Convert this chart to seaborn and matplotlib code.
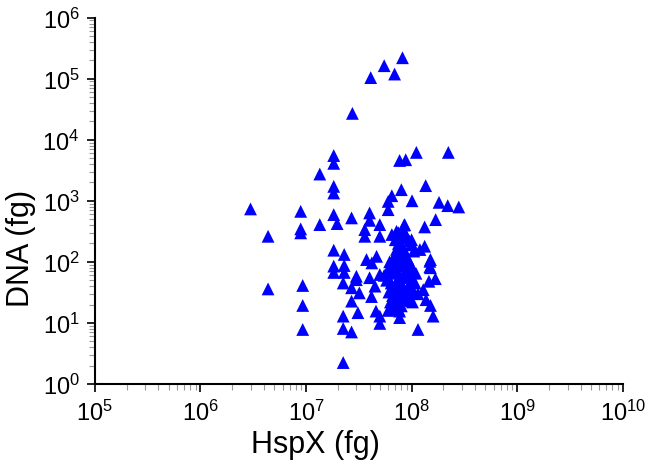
import matplotlib
matplotlib.use("Agg")
import matplotlib.pyplot as plt
import matplotlib.ticker as mticker
import numpy as np
import pandas as pd
import seaborn as sns

# HspX (fg) and DNA (fg) values
hspx = [
    8.2e7, 5.5e7, 6.9e7, 4.1e7, 2.75e7,
    1.83e7, 1.83e7, 1.35e7, 1.83e7, 1.83e7, 2.98e6, 8.9e6, 1.83e7, 2.7e7,
    1.97e7, 1.35e7, 8.9e6, 8.9e6, 4.37e6, 1.83e7, 2.3e7, 1.83e7, 2.3e7,
    1.83e7, 2.3e7, 9.3e6, 9.3e6, 9.3e6, 4.37e6,
    7.7e7, 8.8e7, 1.11e8, 2.23e8, 8.0e7, 1.36e8, 6.5e7, 6.0e7, 1.01e8,
    6.0e7, 1.82e8, 2.2e8, 2.8e8, 1.69e8, 1.33e8, 4.0e7, 4.0e7, 5.0e7,
    3.6e7, 3.6e7, 5.0e7, 8.6e7, 7.2e7, 1.33e8, 1.2e8, 1.49e8, 1.49e8,
    3.74e7, 4.66e7, 3.0e7,
    2.25e7, 2.25e7, 2.25e7, 2.7e7, 2.25e7, 2.7e7, 3.0e7, 3.2e7, 3.1e7,
    2.7e7, 4.0e7, 4.17e7, 4.6e7, 5.0e7, 5.0e7, 7.7e7, 1.15e8, 6.46e7,
    7.7e7, 4.2e7, 5.0e7, 4.5e7,
    1.51e8, 1.51e8, 1.68e8, 1.46e8, 1.51e8, 1.6e8, 9.6e7, 1.29e8, 1.37e8,
    6.5e7, 7.0e7, 7.5e7, 8.0e7, 8.5e7, 9.0e7, 9.5e7, 1.0e8, 1.05e8,
    7.2e7, 7.8e7, 8.3e7, 8.8e7, 9.3e7, 6.8e7, 6.2e7, 7.0e7, 7.6e7,
    8.1e7, 8.6e7, 9.1e7, 9.8e7, 1.03e8, 1.1e8, 6.0e7, 6.5e7, 7.1e7,
    7.7e7, 8.2e7, 8.7e7, 9.4e7, 1.0e8, 1.08e8, 5.8e7, 6.4e7, 6.9e7,
    7.4e7, 7.9e7, 8.4e7, 9.0e7, 9.6e7, 1.05e8, 1.15e8, 6.1e7, 6.6e7,
    7.2e7, 7.8e7, 8.3e7, 8.9e7, 9.8e7, 1.02e8, 6.3e7, 6.8e7, 7.5e7,
    8.0e7, 6.0e7, 6.5e7, 7.3e7, 1.0e8, 1.0e8, 8.5e7, 7.5e7, 5.5e7,
]
dna = [
    2.2e5, 1.63e5, 1.19e5, 1.04e5, 2.7e4,
    5.5e3, 4.1e3, 2.74e3, 1.72e3, 1.34e3, 735, 671, 593, 524,
    423, 407, 346, 298, 262, 155, 132, 85, 87,
    67, 67, 41, 19.3, 7.8, 36,
    4.57e3, 4.7e3, 6.2e3, 6.2e3, 1.52e3, 1.77e3, 1.21e3, 977, 1.0e3,
    715, 942, 832, 792, 491, 373, 632, 478, 407,
    337, 262, 262, 407, 316, 180, 159, 102, 83,
    109, 123, 58,
    45, 12.9, 8.1, 7.1, 2.24, 37.6, 51, 31, 14.7,
    22.7, 55, 27, 15.6, 12.9, 9.8, 12.2, 7.8, 16.6,
    15.6, 96, 62, 40,
    109, 80, 53, 48, 19.3, 12.9, 24, 35, 24,
    280, 230, 200, 250, 310, 260, 220, 190, 150,
    160, 140, 170, 130, 110, 120, 100, 90, 100,
    95, 85, 80, 90, 75, 65, 75, 65, 70,
    60, 55, 65, 55, 50, 45, 50, 45, 40,
    48, 42, 38, 35, 40, 32, 30, 32, 28,
    30, 26, 28, 25, 23, 22, 22, 20, 17,
    19, 16, 18, 24, 230, 200, 400, 300, 60,
]

df = pd.DataFrame({"hspx": hspx, "dna": dna})

sns.set_style("ticks")
plt.rcParams["font.family"] = ["Liberation Sans", "DejaVu Sans"]
plt.rcParams["mathtext.default"] = "regular"
plt.rcParams["text.color"] = "black"
plt.rcParams["axes.labelcolor"] = "black"
plt.rcParams["xtick.labelcolor"] = "black"
plt.rcParams["ytick.labelcolor"] = "black"

fig = plt.figure(figsize=(6.5, 4.77), dpi=100)
ax = fig.add_axes([0.146, 0.193, 0.812, 0.768])

sns.scatterplot(data=df, x="hspx", y="dna", ax=ax, marker="^", s=85,
                color="#0000FF", edgecolor="none", linewidth=0)

ax.set_xscale("log")
ax.set_yscale("log")
ax.set_xlim(1e5, 1e10)
ax.set_ylim(1e0, 1e6)
ax.xaxis.set_major_locator(mticker.LogLocator(base=10, numticks=12))
ax.yaxis.set_major_locator(mticker.LogLocator(base=10, numticks=12))
ax.xaxis.set_minor_locator(mticker.LogLocator(base=10, subs=np.arange(2, 10), numticks=12))
ax.yaxis.set_minor_locator(mticker.LogLocator(base=10, subs=np.arange(2, 10), numticks=12))
ax.xaxis.set_minor_formatter(mticker.NullFormatter())
ax.yaxis.set_minor_formatter(mticker.NullFormatter())

# labels sit off-centre in the original
ax.set_xlabel("HspX (fg)", fontsize=22)
ax.set_ylabel("DNA (fg)", fontsize=22)
ax.xaxis.set_label_coords(0.417, -0.122)
ax.yaxis.set_label_coords(-0.112, 0.373)

sns.despine(ax=ax)
for side in ["left", "bottom"]:
    ax.spines[side].set_linewidth(1.5)
    ax.spines[side].set_color("black")
ax.tick_params(which="major", direction="out", length=6, width=1.2,
               color="black", labelsize=17, pad=5)
ax.tick_params(which="minor", direction="out", length=4, width=0.8,
               color="#999999")

fig.savefig("out.png", dpi=100)
